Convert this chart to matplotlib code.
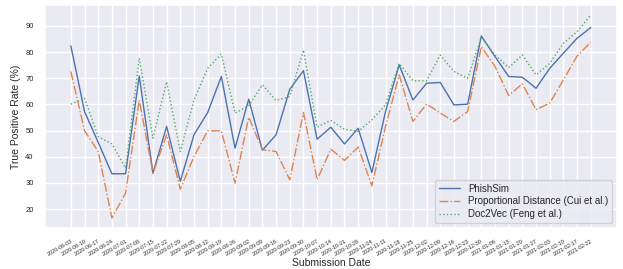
import numpy as np
import matplotlib
matplotlib.use("Agg")
import matplotlib.pyplot as plt
import seaborn as sns

# weekly submission dates
dates = ['2020-06-03', '2020-06-10', '2020-06-17', '2020-06-24', '2020-07-01',
         '2020-07-08', '2020-07-15', '2020-07-22', '2020-07-29', '2020-08-05',
         '2020-08-12', '2020-08-19', '2020-08-26', '2020-09-02', '2020-09-09',
         '2020-09-16', '2020-09-23', '2020-09-30', '2020-10-07', '2020-10-14',
         '2020-10-21', '2020-10-28', '2020-11-04', '2020-11-11', '2020-11-18',
         '2020-11-25', '2020-12-02', '2020-12-09', '2020-12-16', '2020-12-23',
         '2020-12-30', '2021-01-06', '2021-01-13', '2021-01-20', '2021-01-27',
         '2021-02-03', '2021-02-10', '2021-02-17', '2021-02-22']

phishsim = [82.4, 57.3, 45.5, 33.5, 33.5, 70.9, 33.7, 51.6, 30.6, 48.4,
            56.9, 70.7, 43.3, 62.0, 42.5, 48.4, 65.8, 72.9, 46.7, 51.3,
            44.9, 50.9, 34.0, 57.3, 75.1, 61.7, 68.1, 68.4, 59.8, 60.1,
            86.2, 78.3, 70.7, 70.4, 66.2, 73.8, 79.6, 85.3, 89.4]

prop_dist = [72.6, 50.0, 42.0, 16.6, 26.1, 61.7, 33.7, 48.4, 27.6, 40.1,
             49.9, 49.9, 29.9, 55.1, 42.7, 42.0, 31.2, 56.9, 31.2, 42.9,
             38.6, 43.7, 28.9, 51.6, 71.3, 53.5, 60.2, 56.7, 53.5, 57.3,
             82.1, 74.5, 63.4, 67.9, 58.0, 60.5, 69.4, 78.5, 83.8]

doc2vec = [60.1, 62.4, 47.7, 44.9, 35.7, 77.7, 47.1, 68.7, 42.0, 61.7,
           73.8, 79.3, 56.7, 59.5, 67.5, 61.5, 63.0, 80.8, 51.3, 53.9,
           50.5, 49.7, 54.1, 59.8, 75.7, 69.1, 69.0, 78.9, 72.6, 70.0,
           85.7, 78.9, 74.1, 78.9, 71.3, 75.7, 83.4, 87.8, 94.2]

sns.set_theme(style='darkgrid')
plt.rcParams['font.family'] = ['Liberation Sans', 'DejaVu Sans']
pal = sns.color_palette('deep')

fig, ax = plt.subplots(figsize=(6.23, 2.69), dpi=100)
fig.subplots_adjust(left=0.072, right=0.99, top=0.982, bottom=0.152)

x = np.arange(len(dates))
ax.plot(x, phishsim, color=pal[0], ls='-', lw=1.0, label='PhishSim')
ax.plot(x, prop_dist, color=pal[1], ls='-.', lw=1.0, label='Proportional Distance (Cui et al.)')
ax.plot(x, doc2vec, color=pal[2], ls=':', lw=1.0, label='Doc2Vec (Feng et al.)')

ax.set_xticks(x)
ax.set_xticklabels(dates, rotation=30, ha='right', fontsize=3.9, rotation_mode='anchor')
ax.tick_params(axis='x', pad=1.5)
ax.tick_params(axis='y', labelsize=5.5, pad=2)
ax.set_yticks([20, 30, 40, 50, 60, 70, 80, 90])

ax.set_xlabel('Submission Date', fontsize=7.5, labelpad=1)
ax.set_ylabel('True Positive Rate (%)', fontsize=7.5, labelpad=3)

ax.legend(loc='lower right', fontsize=7, handlelength=2.2, borderpad=0.4, labelspacing=0.3)

fig.savefig('out.png', dpi=100)
